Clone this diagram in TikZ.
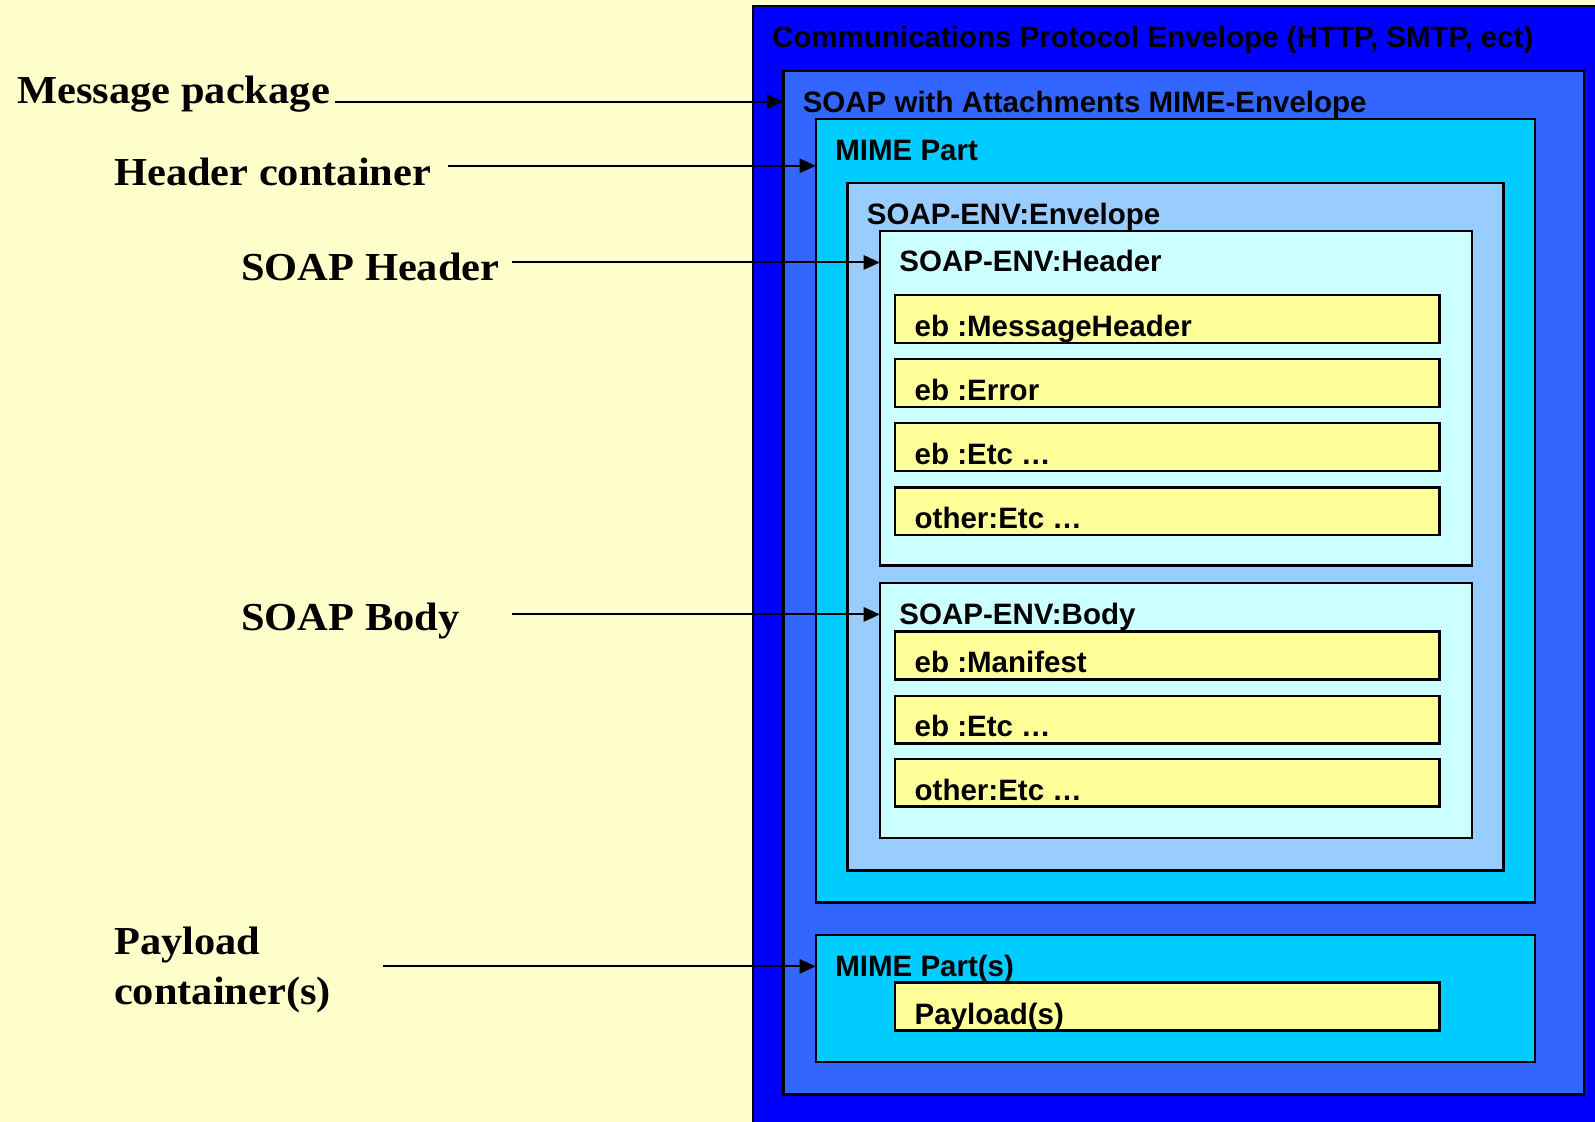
\documentclass[tikz,border=0pt]{standalone}
\usepackage{fontspec}
\usetikzlibrary{arrows.meta}
\newfontfamily\labsans{Liberation Sans}
\newfontfamily\labserif{Liberation Serif}[FakeStretch=1.07]
\definecolor{bgyellow}{HTML}{FFFFCC}
\definecolor{protoblue}{HTML}{0000FF}
\definecolor{swablue}{HTML}{3366FF}
\definecolor{mimecyan}{HTML}{00CCFF}
\definecolor{envblue}{HTML}{99CCFF}
\definecolor{partcyan}{HTML}{CCFFFF}
\definecolor{rowyellow}{HTML}{FFFF99}
\tikzset{
  frame/.style={draw=black, line width=2.5pt, anchor=north west, inner sep=0pt, outer sep=0pt, rectangle},
  row/.style={frame, fill=rowyellow, minimum width=535pt, minimum height=47pt},
  intxt/.style={anchor=base west, inner sep=0pt, font=\labsans\bfseries\fontsize{29}{34}\selectfont},
  outtxt/.style={anchor=base west, inner sep=0pt, font=\labserif\bfseries\fontsize{39}{49}\selectfont},
  arr/.style={draw=black, line width=2pt, -{Triangle[length=16pt,width=14pt]}}
}
\begin{document}
\begin{tikzpicture}[x=1pt,y=-1pt]
\path[use as bounding box, fill=bgyellow] (0,0) rectangle (1568,1103);
\clip (0,0) rectangle (1568,1103);
% boxes
\node[frame, line width=2pt, fill=protoblue, minimum width=900pt, minimum height=1150pt] (cpe) at (740,6) {};
\node[frame, fill=swablue, minimum width=787pt, minimum height=1006pt] (swa) at (770,70) {};
\node[frame, fill=mimecyan, minimum width=707pt, minimum height=770pt] (mime) at (802,117) {};
\node[frame, fill=envblue, minimum width=645pt, minimum height=676pt] (env) at (833,180) {};
\node[frame, fill=partcyan, minimum width=582pt, minimum height=329pt] (hdr) at (865,227) {};
\node[row] (r1) at (880,290) {};
\node[row] (r2) at (880,353) {};
\node[row] (r3) at (880,416) {};
\node[row] (r4) at (880,479) {};
\node[frame, fill=partcyan, minimum width=582pt, minimum height=251pt] (body) at (865,573) {};
\node[row] (b1) at (880,621) {};
\node[row] (b2) at (880,684) {};
\node[row] (b3) at (880,746) {};
\node[frame, fill=mimecyan, minimum width=707pt, minimum height=125pt] (mimes) at (802,919) {};
\node[row] (pay) at (880,966) {};
% inner texts
\node[intxt] (tcpe) at (759,47) {Communications Protocol Envelope (HTTP, SMTP, ect)};
\node[intxt] (tswa) at (789,111) {SOAP with Attachments MIME-Envelope};
\node[intxt] (tmime) at (821,158) {MIME Part};
\node[intxt] (tenv) at (852,221) {SOAP-ENV:Envelope};
\node[intxt] (thdr) at (884,267) {SOAP-ENV:Header};
\node[intxt] (tr1) at (899,330.5) {eb :MessageHeader};
\node[intxt] (tr2) at (899,393.5) {eb :Error};
\node[intxt] (tr3) at (899,456.5) {eb :Etc \ldots};
\node[intxt] (tr4) at (899,519.5) {other:Etc \ldots};
\node[intxt] (tbody) at (884,613.5) {SOAP-ENV:Body};
\node[intxt] (tb1) at (899,661.5) {eb :Manifest};
\node[intxt] (tb2) at (899,724.5) {eb :Etc \ldots};
\node[intxt] (tb3) at (899,786.5) {other:Etc \ldots};
\node[intxt] (tmimes) at (821,959.5) {MIME Part(s)};
\node[intxt] (tpay) at (899,1007.5) {Payload(s)};
% outside labels
\node[outtxt] (lmsg) at (17,102) {Message package};
\node[outtxt] (lhc) at (112,182) {Header container};
\node[outtxt] (lsh) at (237,276) {SOAP Header};
\node[outtxt] (lsb) at (237,620) {SOAP Body};
\node[outtxt, align=left] (lpc) at (112,987) {Payload\\container(s)};
% arrows
\coordinate (smsg) at (329,100);
\coordinate (shc) at (440,163);
\coordinate (ssh) at (503,258);
\coordinate (ssb) at (503,604);
\coordinate (spc) at (377,950);
\draw[arr] (smsg) -- (smsg -| swa.west);
\draw[arr] (shc) -- (shc -| mime.west);
\draw[arr] (ssh) -- (ssh -| hdr.west);
\draw[arr] (ssb) -- (ssb -| body.west);
\draw[arr] (spc) -- (spc -| mimes.west);
\end{tikzpicture}
\end{document}
